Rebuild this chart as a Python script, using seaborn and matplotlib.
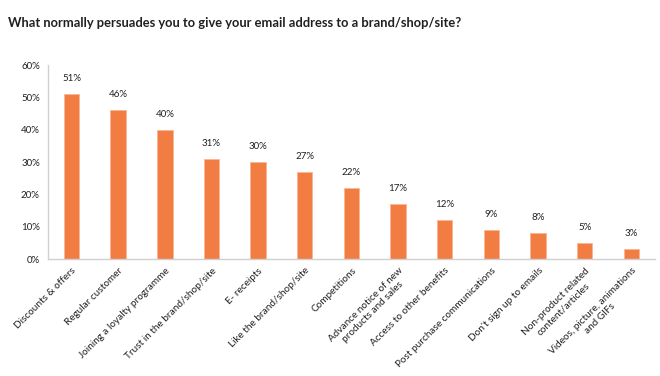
import matplotlib
matplotlib.use("Agg")
import matplotlib.pyplot as plt
import seaborn as sns
import pandas as pd

# Chart data
categories = [
    "Discounts & offers",
    "Regular customer",
    "Joining a loyalty programme",
    "Trust in the brand/shop/site",
    "E- receipts",
    "Like the brand/shop/site",
    "Competitions",
    "Advance notice of new\nproducts and sales",
    "Access to other benefits",
    "Post purchase communications",
    "Don't sign up to emails",
    "Non-product related\ncontent/articles",
    "Videos, picture, animations\nand GIFs",
]
values = [51, 46, 40, 31, 30, 27, 22, 17, 12, 9, 8, 5, 3]
y_ticks = [0, 10, 20, 30, 40, 50, 60]

df = pd.DataFrame({"category": categories, "value": values})

sns.set_style("white")
plt.rcParams["font.family"] = ["Lato", "DejaVu Sans"]

text_color = "#231f20"
bar_color = "#F27D42"

fig = plt.figure(figsize=(6.6, 3.76), dpi=100)
ax = fig.add_axes([0.073, 0.311, 0.919, 0.516])

sns.barplot(data=df, x="category", y="value", color=bar_color, width=0.33,
            edgecolor="#f9b593", linewidth=0.6, saturation=1, ax=ax)

# value labels above the bars
for i, v in enumerate(values):
    ax.annotate(f"{v}%", (i, v), xytext=(0, 8), textcoords="offset points",
                ha="center", va="bottom", fontsize=7, color=text_color)

ax.set_ylim(0, 60)
ax.set_xlim(-0.5, len(categories) - 0.5)
ax.set_yticks(y_ticks)
ax.set_yticklabels([f"{t}%" for t in y_ticks], fontsize=7, color=text_color)
ax.set_xticks(range(len(categories)))
ax.set_xticklabels(categories, rotation=45, ha="right", rotation_mode="anchor",
                   multialignment="center", fontsize=7.2, color=text_color)
ax.tick_params(axis="both", length=0, pad=6)
ax.tick_params(axis="x", pad=5)
ax.set_xlabel("")
ax.set_ylabel("")

sns.despine(ax=ax, top=True, right=True)
for side in ["left", "bottom"]:
    ax.spines[side].set_color("#d0d0d0")
    ax.spines[side].set_linewidth(1)

fig.text(0.012, 0.94, "What normally persuades you to give your email address to a brand/shop/site?",
         fontsize=9.3, fontweight="bold", color=text_color, ha="left", va="center")

fig.savefig("out.png", dpi=100)
